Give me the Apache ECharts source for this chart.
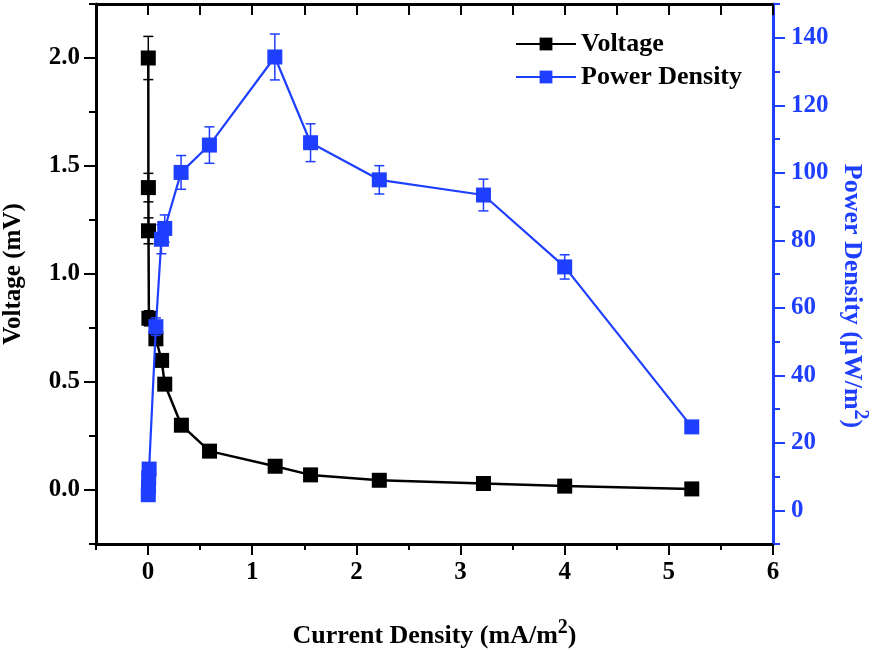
<!DOCTYPE html>
<html>
<head>
<meta charset="utf-8">
<script src="https://cdn.jsdelivr.net/npm/echarts@6/dist/echarts.min.js"></script>
<style>html,body{margin:0;padding:0;background:#fff;}#c{width:878px;height:650px;}</style>
</head>
<body>
<div id="c"></div>
<script>
// ---- data ----
const currentV = [0.002, 0.003, 0.004, 0.008, 0.075, 0.13, 0.16, 0.32, 0.59, 1.22, 1.56, 2.22, 3.22, 4.0, 5.22];
const voltage = [2.0, 1.4, 1.2, 0.795, 0.70, 0.60, 0.49, 0.30, 0.18, 0.11, 0.07, 0.045, 0.03, 0.018, 0.005];
const voltageErr = [0.10, 0.066, 0.06, 0.035, 0.02, 0, 0, 0, 0, 0, 0, 0, 0, 0, 0];
const currentP = [0.002, 0.004, 0.006, 0.01, 0.075, 0.128, 0.16, 0.317, 0.589, 1.217, 1.56, 2.22, 3.22, 4.0, 5.22];
const power = [4.6, 7.0, 9.6, 12.2, 54.4, 80.3, 83.5, 100.1, 108.2, 134.3, 108.9, 97.9, 93.4, 72.1, 24.7];
const powerErr = [0, 0, 0, 0, 2.6, 4.3, 4.0, 5.0, 5.4, 6.8, 5.6, 4.2, 4.7, 3.6, 0];
const xMajorTicks = [0, 1, 2, 3, 4, 5, 6];
const yLeftMajorTicks = [0, 0.5, 1.0, 1.5, 2.0];
const yRightMajorTicks = [0, 20, 40, 60, 80, 100, 120, 140];
const legendNames = ['Voltage', 'Power Density'];
const xTitle = ['Current Density (mA/m', '2', ')'];
const yLeftTitle = 'Voltage (mV)';
const yRightTitle = ['Power Density (μW/m', '2', ')'];

const FONT = "'Liberation Serif', 'Times New Roman', serif";
const BLUE = '#1f3fff';
const BLACK = '#000000';

function zip(a, b) { return a.map((v, i) => [v, b[i]]); }
function zip3(a, b, c) { return a.map((v, i) => [v, b[i], c[i]]); }

function errRender(color) {
  return function (params, api) {
    const x = api.value(0), y = api.value(1), e = api.value(2);
    if (!e) return null;
    const top = api.coord([x, y + e]);
    const bot = api.coord([x, y - e]);
    const hw = 5;
    const st = { stroke: color, lineWidth: 1.5 };
    return {
      type: 'group',
      children: [
        { type: 'line', shape: { x1: top[0], y1: top[1], x2: bot[0], y2: bot[1] }, style: st },
        { type: 'line', shape: { x1: top[0] - hw, y1: top[1], x2: top[0] + hw, y2: top[1] }, style: st },
        { type: 'line', shape: { x1: bot[0] - hw, y1: bot[1], x2: bot[0] + hw, y2: bot[1] }, style: st }
      ]
    };
  };
}

const labelStyle = { fontFamily: FONT, fontWeight: 'bold', fontSize: 25 };
const chart = echarts.init(document.getElementById('c'), null, { renderer: 'canvas' });

const option = {
  animation: false,
  backgroundColor: '#fff',
  grid: { left: 96, right: 105, top: 4, bottom: 106, outerBoundsMode: 'none' },
  legend: {
    data: legendNames,
    orient: 'vertical',
    left: 510,
    top: 26,
    itemWidth: 60,
    itemHeight: 16,
    itemGap: 7,
    textStyle: { fontFamily: FONT, fontWeight: 'bold', fontSize: 26, color: BLACK }
  },
  graphic: [
    {
      type: 'text',
      x: 852, y: 296,
      rotation: -Math.PI / 2,
      style: {
        text: '{t|' + yRightTitle[0] + '}{s|' + yRightTitle[1] + '}{t|' + yRightTitle[2] + '}',
        align: 'center',
        verticalAlign: 'middle',
        rich: {
          t: { fontFamily: FONT, fontWeight: 'bold', fontSize: 26, fill: BLUE },
          s: { fontFamily: FONT, fontWeight: 'bold', fontSize: 20, fill: BLUE, verticalAlign: 'top', padding: [0, 0, 17, 0] }
        }
      }
    }
  ],
  xAxis: [
    {
      type: 'value', position: 'bottom', min: -0.5, max: 6, interval: 0.5,
      axisLine: { show: true, onZero: false, lineStyle: { color: BLACK, width: 3 } },
      axisTick: { show: true, inside: false, length: 6, lineStyle: { color: BLACK, width: 2 } },
      axisLabel: { show: false },
      splitLine: { show: false },
      name: '{t|' + xTitle[0] + '}{s|' + xTitle[1] + '}{t|' + xTitle[2] + '}',
      nameLocation: 'middle',
      nameGap: 74,
      nameTextStyle: {
        rich: {
          t: { fontFamily: FONT, fontWeight: 'bold', fontSize: 26, color: BLACK },
          s: { fontFamily: FONT, fontWeight: 'bold', fontSize: 20, color: BLACK, verticalAlign: 'top', padding: [0, 0, 17, 0] }
        }
      }
    },
    {
      type: 'value', position: 'bottom', min: -0.5, max: 6, interval: 0.5,
      axisLine: { show: false, onZero: false },
      axisTick: { show: true, inside: false, length: 11, customValues: xMajorTicks, lineStyle: { color: BLACK, width: 2 } },
      axisLabel: Object.assign({ show: true, margin: 16, color: BLACK, customValues: xMajorTicks, formatter: v => String(v) }, labelStyle),
      splitLine: { show: false }
    },
    {
      type: 'value', position: 'top', min: -0.5, max: 6, interval: 0.5,
      axisLine: { show: true, onZero: false, lineStyle: { color: BLACK, width: 3 } },
      axisTick: { show: true, inside: true, length: 11, lineStyle: { color: BLACK, width: 2 } },
      axisLabel: { show: false },
      splitLine: { show: false }
    }
  ],
  yAxis: [
    {
      type: 'value', position: 'left', min: -0.25, max: 2.25, interval: 0.25,
      axisLine: { show: true, onZero: false, lineStyle: { color: BLACK, width: 3 } },
      axisTick: { show: true, inside: false, length: 7, lineStyle: { color: BLACK, width: 2 } },
      axisLabel: { show: false },
      splitLine: { show: false },
      name: yLeftTitle,
      nameLocation: 'middle',
      nameGap: 70,
      nameRotate: 90,
      nameTextStyle: { fontFamily: FONT, fontWeight: 'bold', fontSize: 25, color: BLACK }
    },
    {
      type: 'value', position: 'left', min: -0.25, max: 2.25, interval: 0.25,
      axisLine: { show: false, onZero: false },
      axisTick: { show: true, inside: false, length: 12, customValues: yLeftMajorTicks, lineStyle: { color: BLACK, width: 2 } },
      axisLabel: Object.assign({ show: true, margin: 16, color: BLACK, customValues: yLeftMajorTicks, formatter: v => v.toFixed(1) }, labelStyle),
      splitLine: { show: false }
    },
    {
      type: 'value', position: 'right', min: -10, max: 150, interval: 10,
      axisLine: { show: true, onZero: false, lineStyle: { color: BLUE, width: 3 } },
      axisTick: { show: true, inside: false, length: 7, lineStyle: { color: BLUE, width: 2 } },
      axisLabel: { show: false },
      splitLine: { show: false }
    },
    {
      type: 'value', position: 'right', min: -10, max: 150, interval: 10,
      axisLine: { show: false, onZero: false },
      axisTick: { show: true, inside: false, length: 12, customValues: yRightMajorTicks, lineStyle: { color: BLUE, width: 2 } },
      axisLabel: Object.assign({ show: true, margin: 18, color: BLUE, customValues: yRightMajorTicks, formatter: v => String(v) }, labelStyle),
      splitLine: { show: false }
    }
  ],
  series: [
    {
      name: 'Voltage-err', type: 'custom', xAxisIndex: 0, yAxisIndex: 0,
      renderItem: errRender(BLACK), data: zip3(currentV, voltage, voltageErr), z: 2, silent: true
    },
    {
      name: 'Power-err', type: 'custom', xAxisIndex: 0, yAxisIndex: 2,
      renderItem: errRender(BLUE), data: zip3(currentP, power, powerErr), z: 4, silent: true
    },
    {
      name: legendNames[0], type: 'line', xAxisIndex: 0, yAxisIndex: 0,
      data: zip(currentV, voltage),
      symbol: 'rect', symbolSize: 15, showAllSymbol: true,
      itemStyle: { color: BLACK },
      lineStyle: { color: BLACK, width: 2.5 },
      z: 3
    },
    {
      name: legendNames[1], type: 'line', xAxisIndex: 0, yAxisIndex: 2,
      data: zip(currentP, power),
      symbol: 'rect', symbolSize: 15, showAllSymbol: true,
      itemStyle: { color: BLUE },
      lineStyle: { color: BLUE, width: 2.2 },
      z: 5
    }
  ]
};
chart.setOption(option);
</script>
</body>
</html>
